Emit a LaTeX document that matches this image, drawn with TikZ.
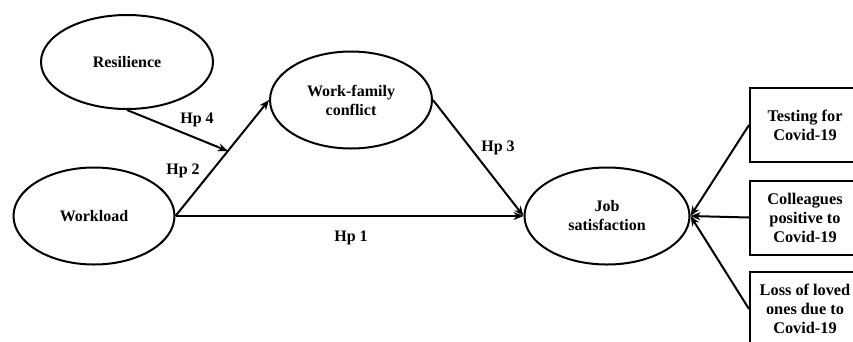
\documentclass[tikz,border=0pt]{standalone}
\usepackage{fontspec}
\setmainfont{Liberation Serif}
\usetikzlibrary{shapes.geometric,arrows.meta}

\begin{document}
\begin{tikzpicture}[x=1pt,y=-1pt,
  construct/.style={draw,ellipse,line width=2pt,inner sep=0pt,align=center,
    font=\fontsize{16}{19}\selectfont\bfseries},
  item/.style={draw,rectangle,line width=2pt,inner sep=0pt,align=center,
    minimum width=110pt,minimum height=74pt,
    font=\fontsize{16.3}{19}\selectfont\bfseries},
  path/.style={line width=2pt,-{Stealth[length=10pt,width=8pt]}},
  hp/.style={font=\fontsize{16}{18}\selectfont\bfseries}]
% The page is the reference frame; the boxes on the right run over its edge.
\clip (0,0) rectangle (853,341);
% The four latent constructs
\node[construct,minimum width=172pt,minimum height=94pt] (res) at (127,62) {Resilience};
\node[construct,minimum width=161pt,minimum height=97pt] (work) at (94,216) {Workload};
\node[construct,minimum width=162pt,minimum height=97pt] (wfc) at (351,100) {Work-family\\conflict};
\node[construct,minimum width=165pt,minimum height=97pt] (job) at (607,216) {Job\\satisfaction};
% The Covid-19 indicators
\node[item] (test) at (805,125) {Testing for\\Covid-19};
\node[item] (coll) at (805,217.5) {Colleagues\\positive to\\Covid-19};
\node[item] (loss) at (805,309) {Loss of loved\\ones due to\\Covid-19};
% The hypotheses; Hp 4 moderates the path of Hp 2.
\draw[path] (work.east) -- (wfc.west) coordinate[pos=0.56] (mod);
\draw[path] (res.south) -- (mod);
\draw[path] (work.east) -- (job.west);
\draw[path] (wfc.east) -- (job.west);
\node[hp] (hp4) at (197,120) {Hp 4};
\node[hp] (hp2) at (183,171) {Hp 2};
\node[hp] (hp1) at (351,238) {Hp 1};
\node[hp] (hp3) at (498,148) {Hp 3};
% The indicators all point at one spot on the ellipse
\foreach \b in {test,coll,loss}
  \draw[path] (\b.west) -- (job.east);
\end{tikzpicture}
\end{document}
